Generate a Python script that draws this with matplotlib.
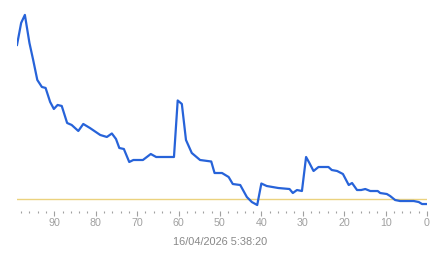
import matplotlib
matplotlib.use("Agg")
import matplotlib.pyplot as plt
from matplotlib.ticker import MultipleLocator

plt.rcParams['font.family'] = ['Liberation Sans', 'DejaVu Sans']

# samples, counted back from "now" (0) to 99
ago = [99, 98, 97.1, 96, 95.1, 94.1, 93, 92.1, 91, 90.1, 89.2, 88.2, 86.9, 85.8,
       84.2, 83, 81.4, 78.9, 77.3, 76.1, 75.1, 74.3, 73.2, 71.9, 70.9, 68.6, 66.7,
       65.4, 61.1, 60.2, 59.2, 58.2, 56.8, 54.8, 52.1, 51.3, 49.5, 47.9, 46.9, 45.1,
       43.5, 42.3, 41, 40, 38.7, 35.9, 33.2, 32.4, 31.4, 30.2, 29.2, 28.4, 27.4,
       26.2, 23.8, 23, 21.7, 20.3, 18.9, 18.1, 16.9, 15.9, 14.9, 13.7, 11.9, 11.3,
       9.7, 8.9, 7.7, 6.5, 3.2, 2, 1.2, 0]
value = [154, 176, 184, 156, 139, 119, 112, 111, 97, 90, 94, 93, 76, 74,
         68, 75, 71, 64, 62, 65.5, 60, 51, 50, 37, 39, 39, 45,
         42, 42, 98.5, 95, 59, 46, 39, 37.5, 26, 26, 22, 15, 14,
         2, -3, -6, 15.5, 13, 11, 10, 6, 9, 8, 42, 36, 28,
         32, 32, 29, 28, 25, 14, 16, 9, 9, 10, 8, 8, 6,
         5, 3, -1, -2, -2, -3, -5, -5]
baseline = 0
timestamp = "16/04/2026 5:38:20"

fig = plt.figure(figsize=(4.43, 2.58), dpi=100)
ax = fig.add_axes([0.0384, 0.184, 0.9255, 0.797])

ax.axhline(baseline, color='#ebd27e', linewidth=1.0, zorder=1)
ax.plot(ago, value, color='#2763d9', linewidth=1.6, zorder=2)

ax.set_xlim(99, 0)
ax.set_ylim(-11.5, 194)

ax.xaxis.set_major_locator(MultipleLocator(10))
ax.xaxis.set_minor_locator(MultipleLocator(2))
ax.tick_params(axis='x', which='major', direction='out', length=3.6, width=0.8,
               color='#a0a0a0', labelcolor='#a0a0a0', labelsize=7.7, pad=2)
ax.tick_params(axis='x', which='minor', direction='out', length=1.2, width=0.8,
               color='#a0a0a0')
ax.set_yticks([])
for s in ax.spines.values():
    s.set_visible(False)

fig.text(0.4966, 0.062, timestamp, ha='center', va='center',
         fontsize=7.9, color='#888888')

fig.savefig("out.png", dpi=100)
